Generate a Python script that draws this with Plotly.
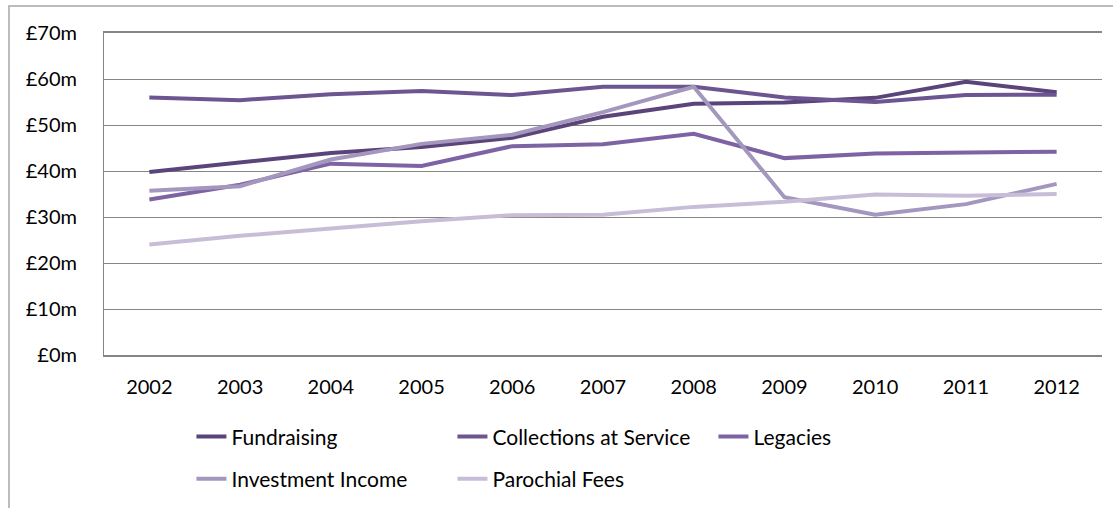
import plotly.graph_objects as go

years = ['2002', '2003', '2004', '2005', '2006', '2007', '2008', '2009', '2010', '2011', '2012']

fundraising = [39.8, 41.8, 43.9, 45.2, 47.2, 51.8, 54.6, 54.9, 55.9, 59.4, 57.1]
collections = [56.0, 55.4, 56.7, 57.4, 56.5, 58.3, 58.3, 56.0, 55.0, 56.5, 56.6]
legacies = [33.8, 37.0, 41.6, 41.1, 45.4, 45.8, 48.1, 42.8, 43.8, 44.1, 44.2]
investment = [35.7, 36.7, 42.5, 45.9, 47.9, 52.8, 58.3, 34.3, 30.5, 32.8, 37.2]
parochial = [24.0, 25.9, 27.5, 29.1, 30.4, 30.5, 32.2, 33.3, 34.9, 34.6, 35.0]

y_ticks = [0, 10, 20, 30, 40, 50, 60, 70]
y_labels = ['£' + str(v) + 'm' for v in y_ticks]

series = [
    ('Fundraising', fundraising, '#5b4479', 'legend'),
    ('Collections at Service', collections, '#6c5591', 'legend'),
    ('Legacies', legacies, '#7e63a4', 'legend'),
    ('Investment Income', investment, '#a497bd', 'legend2'),
    ('Parochial Fees', parochial, '#c7bdd7', 'legend2'),
]

fig = go.Figure()
for name, vals, color, leg in series:
    fig.add_trace(go.Scatter(x=years, y=vals, name=name, mode='lines',
                             line=dict(color=color, width=4),
                             legend=leg))

# two legends so the rows sit where the original ones are
legend_style = dict(
    orientation='h',
    xanchor='left',
    yanchor='middle',
    xref='container',
    yref='container',
    entrywidth=216,
    entrywidthmode='pixels',
    itemwidth=30,
    font=dict(size=21, color='#000000'),
    bgcolor='rgba(0,0,0,0)',
)

fig.update_layout(
    width=1113,
    height=508,
    margin=dict(l=104, r=11, t=33, b=153),
    paper_bgcolor='white',
    plot_bgcolor='white',
    font=dict(family='Lato, Open Sans, sans-serif', size=20, color='#000000'),
    showlegend=True,
    legend=dict(x=0.172, y=0.14, **legend_style),
    legend2=dict(x=0.172, y=0.057, **legend_style),
    xaxis=dict(
        type='category',
        showgrid=False,
        showline=True,
        mirror=True,
        linecolor='#868686',
        linewidth=1.5,
        ticks='',
        ticklabelstandoff=13,
        range=[-0.5, 10.5],
    ),
    yaxis=dict(
        range=[0, 70],
        tickvals=y_ticks,
        ticktext=y_labels,
        showgrid=True,
        gridcolor='#868686',
        gridwidth=1,
        showline=True,
        linecolor='#868686',
        linewidth=1,
        zeroline=False,
        ticks='',
        ticklabelstandoff=22,
    ),
    shapes=[dict(type='rect', xref='paper', yref='paper',
                 x0=-0.0952, x1=1.05, y0=-0.7, y1=1.0839,
                 line=dict(color='#a6a6a6', width=1.5))],
)

fig.write_html("out.html", config={'displayModeBar': False},
               post_script="document.body.style.margin='0';")
